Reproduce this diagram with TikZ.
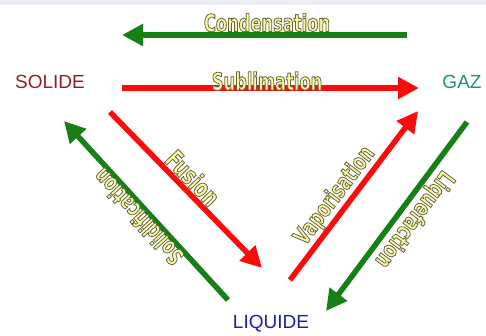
\documentclass[tikz,border=0pt]{standalone}
\usepackage{fontspec}
\setmainfont{Liberation Sans}
\newfontfamily\lblfont[FakeStretch=0.68]{DejaVu Sans Bold}
\usetikzlibrary{arrows.meta}
\definecolor{redA}{RGB}{255,10,10}
\definecolor{greenA}{RGB}{22,128,22}
\definecolor{lblfill}{RGB}{252,250,160}
\definecolor{solc}{RGB}{150,30,40}
\definecolor{gazc}{RGB}{40,140,120}
\definecolor{liqc}{RGB}{30,30,170}
\definecolor{topband}{RGB}{236,238,246}
\tikzset{
  statelbl/.style={font=\fontsize{19}{22}\selectfont, inner sep=0pt},
  arr/.style={line width=5.5pt, -{Triangle[length=21pt,width=21pt]}},
  proclbl/.style={font=\lblfont\fontsize{24}{26}\selectfont, text=lblfill, inner sep=1pt}
}
\newcommand{\olbl}[1]{\special{pdf:literal direct 2 Tr 0.8 w 0.40 0.40 0.28 RG}#1\special{pdf:literal direct 0 Tr}}
\begin{document}
\begin{tikzpicture}[x=1pt,y=-1pt]
\useasboundingbox (0,0) rectangle (486,335);
\fill[white] (0,0) rectangle (486,335);
\fill[topband] (0,0) rectangle (486,5);
% states
\node[statelbl, text=solc] (sol) at (50,82) {SOLIDE};
\node[statelbl, text=gazc] (gaz) at (462,82) {GAZ};
\node[statelbl, text=liqc] (liq) at (271,324) {LIQUIDE};
% arrow end points
\coordinate (condT) at (407,35);  \coordinate (condH) at (122,35);
\coordinate (sublT) at (122,88);  \coordinate (sublH) at (419,88);
\coordinate (fusT) at (110,112);  \coordinate (fusH) at (262,268);
\coordinate (solT) at (228,300);  \coordinate (solH) at (64,121);
\coordinate (vapT) at (290,280);  \coordinate (vapH) at (418,111);
\coordinate (liqT) at (467,122);  \coordinate (liqH) at (326,311);
% arrows
\draw[arr, greenA] (condT) -- (condH);
\draw[arr, redA] (sublT) -- (sublH);
\draw[arr, redA] (fusT) -- (fusH);
\draw[arr, greenA] (solT) -- (solH);
\draw[arr, redA] (vapT) -- (vapH);
\draw[arr, greenA] (liqT) -- (liqH);
% labels
\node[proclbl, anchor=base] (lcond) at (267,31.5) {\olbl{Condensation}};
\node[proclbl, anchor=base] (lsubl) at (267,90) {\olbl{Sublimation}};
\node[proclbl, rotate=-46, font=\lblfont\fontsize{26}{28}\selectfont] (lfus) at (193,178) {\olbl{Fusion}};
\node[proclbl, rotate=132.5] (lsol) at (138,217) {\olbl{Solidification}};
\node[proclbl, rotate=52.9] (lvap) at (335,196) {\olbl{Vaporisation}};
\node[proclbl, rotate=-126.7] (lliq) at (414,219) {\olbl{Liquefaction}};
\end{tikzpicture}
\end{document}
